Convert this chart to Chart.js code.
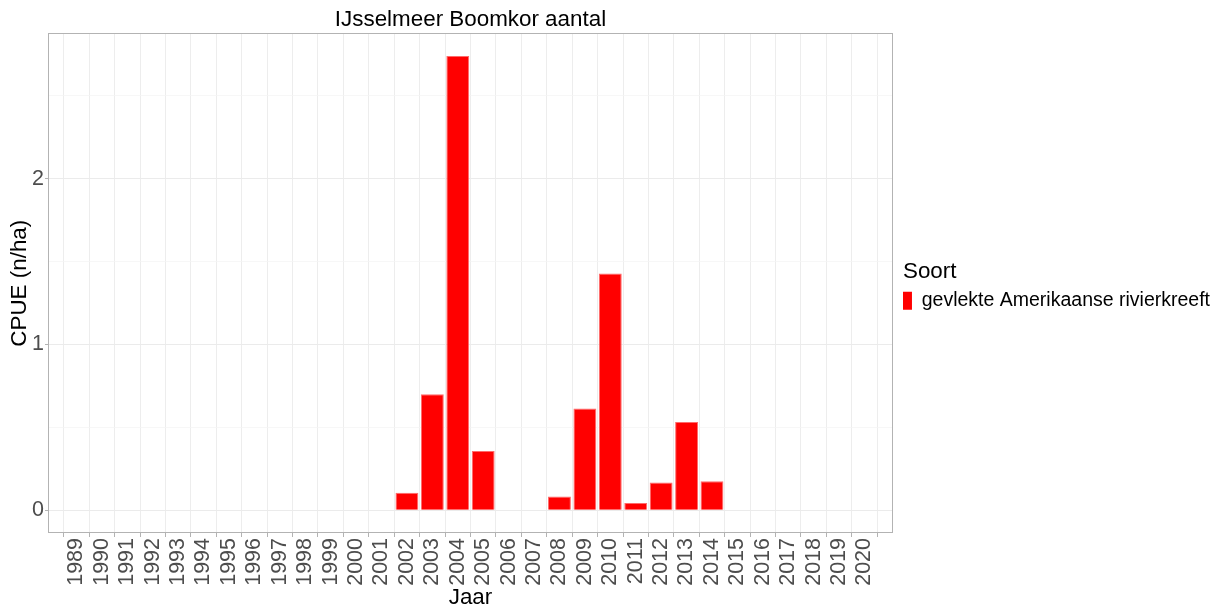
<!DOCTYPE html>
<html><head><meta charset="utf-8">
<script src="https://cdn.jsdelivr.net/npm/chart.js@4/dist/chart.umd.min.js"></script>
<style>html,body{margin:0;padding:0;background:#fff}#wrap{width:1222px;height:607px}</style>
</head><body><div id="wrap"><canvas id="c" width="1222" height="607"></canvas></div>
<script>
const years = [1989,1990,1991,1992,1993,1994,1995,1996,1997,1998,1999,2000,2001,2002,2003,2004,2005,2006,2007,2008,2009,2010,2011,2012,2013,2014,2015,2016,2017,2018,2019,2020];
const cpue = [null,null,null,null,null,null,null,null,null,null,null,null,null,
  0.105,0.70,2.739,0.358,null,null,0.083,0.614,1.428,0.044,0.167,0.532,0.175,
  null,null,null,null,null,null];
const yGridValues = [0,0.5,1,1.5,2,2.5];
const yTickLabels = [0,1,2];
const seriesName = 'gevlekte Amerikaanse rivierkreeft';
const FAM = '"Liberation Sans", Arial, sans-serif';

const panelBorder = {
  id:'panelBorder',
  beforeDraw(chart){const c=chart.ctx;c.save();c.fillStyle='#fff';c.fillRect(0,0,chart.width,chart.height);c.restore();},
  afterDraw(chart){
    const a=chart.chartArea, c=chart.ctx;
    c.save(); c.strokeStyle='#b3b3b3'; c.lineWidth=1;
    c.strokeRect(Math.round(a.left)+0.5, Math.round(a.top)+0.5, Math.round(a.right-a.left)-1, Math.round(a.bottom-a.top)-1);
    c.restore();
  }
};

new Chart(document.getElementById('c'), {
  type:'bar',
  data:{datasets:[{
    label: seriesName,
    data: years.map((y,i)=>({x:y, y:cpue[i]})),
    backgroundColor:'#ff0000',
    borderColor:'#ff6a6a',
    borderWidth:1,
    barPercentage:0.9,
    categoryPercentage:1.0
  }]},
  options:{
    responsive:false, animation:false, devicePixelRatio:1,
    layout:{padding:{left:0,right:2,top:0,bottom:0}},
    plugins:{
      title:{display:true, text:'IJsselmeer Boomkor aantal', fullSize:false, color:'#000',
        font:{family:FAM,size:22.4,weight:'normal'}, padding:{top:6.5,bottom:0}},
      legend:{position:'right', align:'center', fullSize:false, maxWidth:400,
        title:{display:true, text:'Soort', color:'#000', position:'start',
          font:{family:FAM,size:22.4,weight:'normal',lineHeight:1.0}, padding:{top:4.5,bottom:8}},
        labels:{boxWidth:9, boxHeight:18, padding:0, color:'#000',
          font:{family:FAM,size:19.5,lineHeight:1.0},
          generateLabels:(chart)=>chart.data.datasets.map((d,i)=>({text:d.label, fillStyle:d.backgroundColor, strokeStyle:d.backgroundColor, lineWidth:0, datasetIndex:i, fontColor:'#000'}))
        }},
      tooltip:{enabled:false}
    },
    scales:{
      x:{type:'linear', min:1988.4, max:2020.6,
        afterBuildTicks:s=>{s.ticks = years.map(v=>({value:v}));},
        afterFit:s=>{s.height=74;},
        ticks:{autoSkip:false, minRotation:90, maxRotation:90, padding:1, color:'#4d4d4d',
          font:{family:FAM,size:21.5}, callback:v=>String(v)},
        grid:{color:'#ededed', lineWidth:1, tickLength:4, tickColor:'#b3b3b3'},
        border:{display:false},
        title:{display:true, text:'Jaar', color:'#000', font:{family:FAM,size:22.4,lineHeight:0.82}, padding:{top:0,bottom:0}}
      },
      y:{min:-0.137, max:2.876,
        afterBuildTicks:s=>{s.ticks = yGridValues.map(v=>({value:v}));},
        afterFit:s=>{s.width=48;},
        ticks:{padding:1, color:'#4d4d4d', font:{family:FAM,size:21.5},
          callback:v=> yTickLabels.includes(v) ? String(v) : ''},
        grid:{
          color:ctx=> (ctx.tick && ctx.tick.value%1===0) ? '#ebebeb' : '#f4f4f4',
          lineWidth:ctx=> (ctx.tick && ctx.tick.value%1===0) ? 1 : 0.7,
          tickLength:3,
          tickColor:ctx=> (ctx.tick && ctx.tick.value%1===0) ? '#b3b3b3' : 'rgba(0,0,0,0)'},
        border:{display:false},
        title:{display:true, text:'CPUE (n/ha)', color:'#000', font:{family:FAM,size:22.4}, padding:{top:6,bottom:0}}
      },
      gap:{type:'linear', position:'right', display:true, min:0, max:1,
        afterBuildTicks:s=>{s.ticks=[];},
        afterFit:s=>{s.width=10;},
        ticks:{display:false}, grid:{display:false, drawTicks:false}, border:{display:false}
      }
    }
  },
  plugins:[panelBorder]
});
</script></body></html>
